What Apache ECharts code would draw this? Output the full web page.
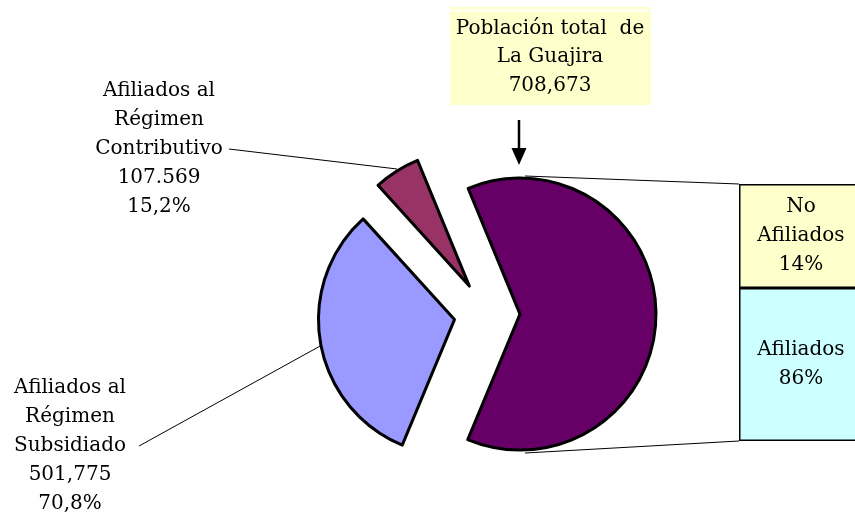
<!DOCTYPE html>
<html>
<head>
<meta charset="utf-8">
<script src="https://cdn.jsdelivr.net/npm/echarts@6/dist/echarts.min.js"></script>
<style>
  html, body { margin: 0; padding: 0; background: #fff; }
  #main { width: 855px; height: 515px; }
</style>
</head>
<body>
<div id="main"></div>
<script>
// pie slices (share of the circle as drawn)
const sliceNames = ['Población total de La Guajira', 'Afiliados al Régimen Subsidiado', 'Afiliados al Régimen Contributivo'];
const sliceValues = [62.5, 32.0, 5.5];
const sliceColors = ['#660066', '#9999ff', '#993366'];

// stacked bar on the right (heights as drawn) and its labels
const barNames = ['Afiliados', 'No Afiliados'];
const barValues = [59.5, 40.5];
const barLabels = ['Afiliados\n86%', 'No\nAfiliados\n14%'];
const barColors = ['#ccffff', '#ffffcc'];

// text boxes
const titleText = 'Población total  de\nLa Guajira\n708,673';
const contribText = 'Afiliados al\nRégimen\nContributivo\n107.569\n15,2%';
const subsText = 'Afiliados al\nRégimen\nSubsidiado\n501,775\n70,8%';

const FAMILY = 'DejaVu Serif';
const SIZE = 20;
const FONT = SIZE + 'px "' + FAMILY + '"';
const chart = echarts.init(document.getElementById('main'));

const option = {
  animation: false,
  backgroundColor: '#fff',
  // bar runs past the right edge of the picture, as in the original
  grid: { left: 739, top: 184, width: 124, height: 257, outerBoundsMode: 'none' },
  xAxis: { type: 'category', data: ['x'], show: false },
  yAxis: { type: 'value', min: 0, max: 100, show: false },
  series: [
    {
      type: 'pie',
      center: [487, 314],
      radius: 136,
      startAngle: 112.4,
      selectedMode: 'multiple',
      selectedOffset: 33,
      silent: true,
      label: { show: false },
      labelLine: { show: false },
      itemStyle: { borderColor: '#000', borderWidth: 3 },
      emphasis: { disabled: true },
      data: sliceNames.map((n, i) => ({
        name: n, value: sliceValues[i], selected: true,
        itemStyle: { color: sliceColors[i] }
      }))
    }
  ].concat(barNames.map((n, i) => ({
    type: 'bar',
    name: n,
    stack: 'total',
    barWidth: '100%',
    silent: true,
    data: [barValues[i]],
    itemStyle: { color: barColors[i], borderColor: '#000', borderWidth: 1.5 },
    label: {
      show: true, position: 'inside', formatter: barLabels[i],
      color: '#000', fontFamily: FAMILY, fontSize: SIZE, lineHeight: 29
    }
  }))),
  graphic: [
    { type: 'rect', shape: { x: 450, y: 7, width: 201, height: 98 }, style: { fill: '#ffffcc' } },
    { type: 'line', shape: { x1: 450, y1: 10.5, x2: 651, y2: 10.5 }, style: { stroke: '#fff', lineWidth: 2 } },
    { type: 'text', style: { text: titleText, x: 550, y: 57, align: 'center', verticalAlign: 'middle', font: FONT, lineHeight: 28.5, fill: '#000' } },
    // arrow
    { type: 'line', shape: { x1: 519, y1: 120, x2: 519, y2: 150 }, style: { stroke: '#000', lineWidth: 2.5 } },
    { type: 'polygon', shape: { points: [[511.5, 148], [526.5, 148], [519, 165]] }, style: { fill: '#000' } },
    // contributivo label
    { type: 'text', style: { text: contribText, x: 159, y: 149, align: 'center', verticalAlign: 'middle', font: FONT, lineHeight: 29, fill: '#000' } },
    { type: 'line', shape: { x1: 229, y1: 149, x2: 397, y2: 169 }, style: { stroke: '#000', lineWidth: 1 } },
    // subsidiado label
    { type: 'text', style: { text: subsText, x: 70, y: 446, align: 'center', verticalAlign: 'middle', font: FONT, lineHeight: 29, fill: '#000' } },
    { type: 'line', shape: { x1: 139, y1: 446, x2: 322, y2: 345 }, style: { stroke: '#000', lineWidth: 1 } },
    // connectors pie -> bar
    { type: 'line', shape: { x1: 525, y1: 176, x2: 739, y2: 184 }, style: { stroke: '#000', lineWidth: 1 } },
    { type: 'line', shape: { x1: 525, y1: 453, x2: 739, y2: 441 }, style: { stroke: '#000', lineWidth: 1 } }
  ]
};
chart.setOption(option);
</script>
</body>
</html>
